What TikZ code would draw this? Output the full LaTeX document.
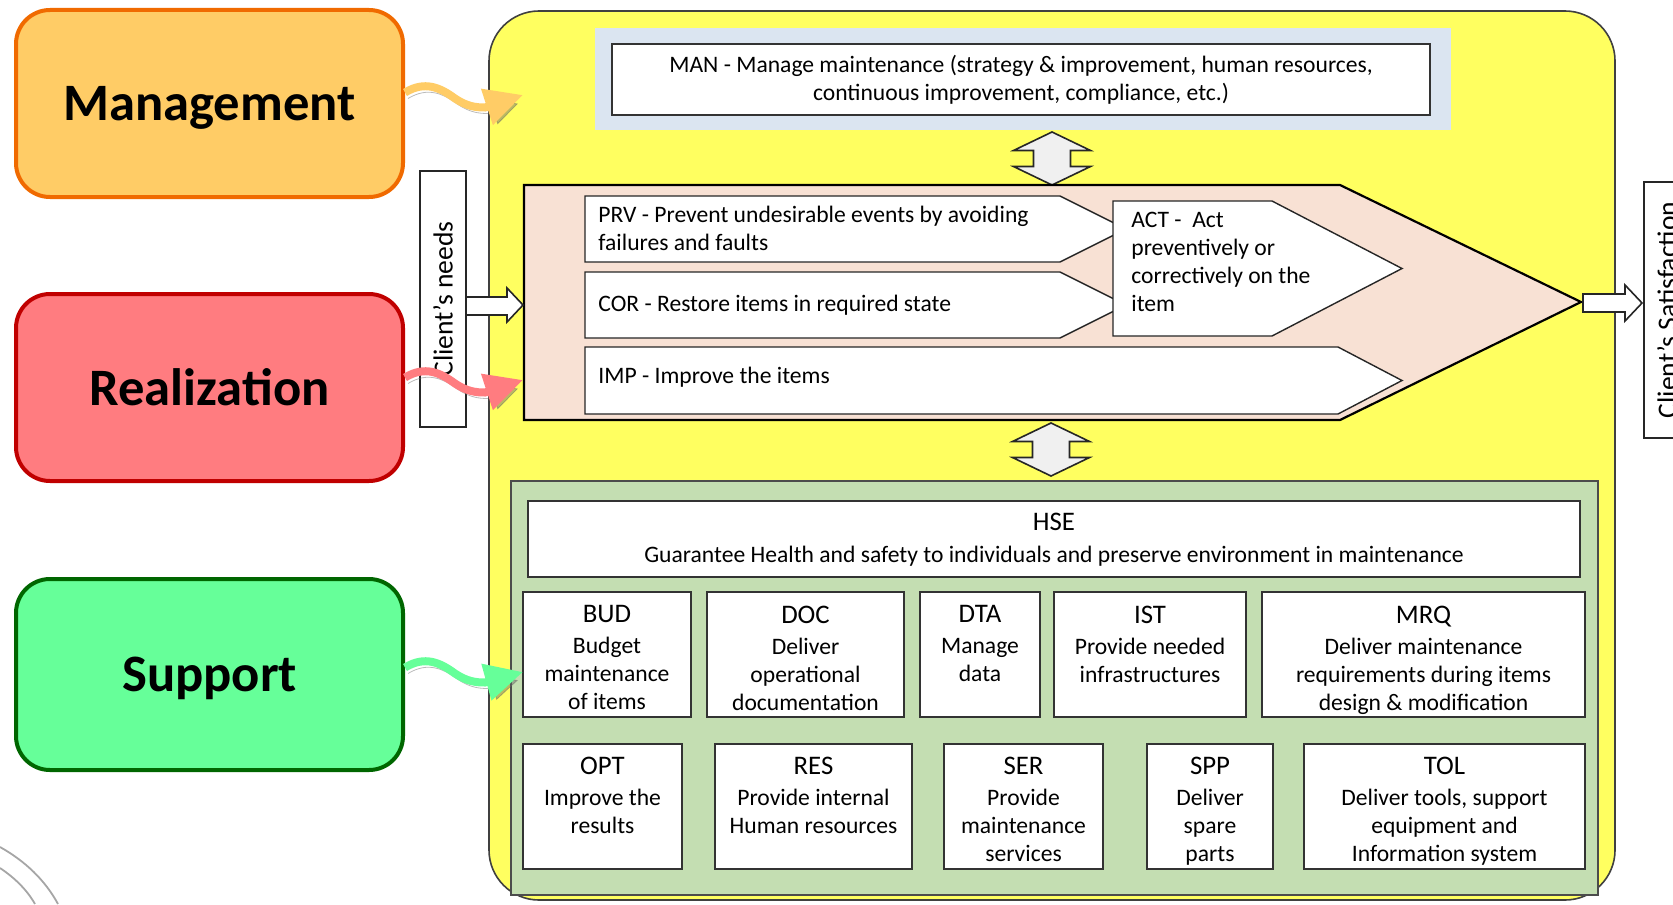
\documentclass[tikz,border=0pt]{standalone}
\usepackage{fontspec}
\setmainfont{Carlito}
\usetikzlibrary{arrows.meta,calc}

\definecolor{mgmtfill}{HTML}{FFCC66}
\definecolor{mgmtline}{HTML}{F06A00}
\definecolor{realfill}{HTML}{FF7C80}
\definecolor{realline}{HTML}{C00000}
\definecolor{suppfill}{HTML}{66FF99}
\definecolor{suppline}{HTML}{006600}
\definecolor{framefill}{HTML}{FFFF60}
\definecolor{chevfill}{HTML}{F8E1D4}
\definecolor{manfill}{HTML}{DBE5F1}
\definecolor{supparea}{HTML}{C4DEB2}

\newcommand\bodyfnt{\fontsize{11.8}{14}\selectfont}
\newcommand\ttlfnt{\fontsize{13.4}{15}\selectfont}
\newcommand\bigfnt{\fontsize{26.3}{30}\selectfont\bfseries}
\newcommand\sidefnt{\fontsize{13.8}{16}\selectfont}

\tikzset{
  phase/.style={rounded corners=17pt, line width=2pt, minimum width=193.5pt,
    minimum height=93.5pt, font=\bigfnt, text depth=0pt},
  wavy/.style={line width=4pt, -{Triangle[length=19pt,width=18pt]},
    preaction={draw=black!60, opacity=.45, transform canvas={shift={(1.5pt,-3pt)}}}},
  hollow/.style={draw=black!85, fill=white, line width=.8pt},
  sidebox/.style={draw=black!85, line width=1pt, fill=white, rotate=90,
    font=\sidefnt, inner sep=0pt},
  supbox/.style={draw=black!80, fill=white, line width=.7pt},
  boxtext/.style={anchor=north, align=center, inner sep=0pt, font=\bodyfnt},
  steptext/.style={anchor=west, align=left, inner sep=0pt, font=\bodyfnt},
  flowarrow/.style={draw=black!85, fill=white, line width=.7pt},
  dblarrow/.pic={
    \draw[fill=black!6, draw=black!85, line width=.8pt]
      (0,-26.5) -- (38.5,-8) -- (18.5,-8) -- (18.5,8) -- (38.5,8) -- (0,26.5)
      -- (-38.5,8) -- (-18.5,8) -- (-18.5,-8) -- (-38.5,-8) -- cycle;}
}

\begin{document}
\begin{tikzpicture}[x=0.5pt,y=-0.5pt]
  \useasboundingbox (0,0) rectangle (1673,904);
  \clip (0,0) rectangle (1673,904);

  % corner decoration
  \draw[black!35, line width=.9pt] (0,847) .. controls (25,861) and (45,880) .. (58,904);
  \draw[black!35, line width=.9pt] (0,868) .. controls (15,878) and (27,890) .. (35,904);

  % process frame
  \draw[draw=black!75, fill=framefill, line width=.8pt, rounded corners=25pt]
    (489,11) rectangle (1615,900);

  % management process
  \fill[manfill] (595,28) rectangle (1451,130);
  \node[supbox, line width=.9pt, minimum width=409pt, minimum height=35.5pt,
    align=center, font=\bodyfnt] (man) at (1021,79.5)
    {MAN - Manage maintenance (strategy \& improvement, human resources,\\
     continuous improvement, compliance, etc.)};

  \pic (upper) at (1052,158.5) {dblarrow};

  % realization chevron
  \draw[fill=chevfill, line width=1.1pt]
    (524,185) -- (1340,185) -- (1581,302) -- (1340,420) -- (524,420) -- cycle;
  \draw[flowarrow] (585,196) -- (1060,196) -- (1126,229) -- (1060,262) -- (585,262) -- cycle;
  \draw[flowarrow] (585,272) -- (1060,272) -- (1126,305) -- (1060,338) -- (585,338) -- cycle;
  \draw[flowarrow] (585,347) -- (1338,347) -- (1402,380.5) -- (1338,414) -- (585,414) -- cycle;
  \draw[flowarrow] (1113,201) -- (1272,201) -- (1402,268.5) -- (1272,336) -- (1113,336) -- cycle;

  \node[steptext] (prv) at (598,228) {PRV - Prevent undesirable events by avoiding\\failures and faults};
  \node[steptext] (cor) at (598,305) {COR - Restore items in required state};
  \node[steptext] (imp) at (598,377) {IMP - Improve the items};
  \node[steptext] (act) at (1131,262) {ACT -\ \ Act\\preventively or\\correctively on the\\item};

  \pic (lower) at (1051,449.5) {dblarrow};

  % support processes
  \draw[draw=black!70, fill=supparea, line width=.8pt] (511,481) rectangle (1598,895);

  \node[supbox, minimum width=526pt, minimum height=38pt] (hse) at (1054,539) {};
  \node[boxtext] (hse-t) at ([yshift=-6pt]hse.north)
    {{\ttlfnt HSE}\\[2pt]Guarantee Health and safety to individuals and preserve environment in maintenance};

  \begin{scope}[every node/.append style={supbox, minimum height=62.5pt}]
    \node[minimum width=84pt]    (bud) at (607,654.5)    {};
    \node[minimum width=98.5pt]  (doc) at (805.5,654.5)  {};
    \node[minimum width=60pt]    (dta) at (980,654.5)    {};
    \node[minimum width=96pt]    (ist) at (1150,654.5)   {};
    \node[minimum width=161.5pt] (mrq) at (1423.5,654.5) {};
    \node[minimum width=79.5pt]  (opt) at (602.5,806.5)  {};
    \node[minimum width=98.5pt]  (res) at (813.5,806.5)  {};
    \node[minimum width=79.5pt]  (ser) at (1023.5,806.5) {};
    \node[minimum width=63pt]    (spp) at (1210,806.5)   {};
    \node[minimum width=140.5pt] (tol) at (1444.5,806.5) {};
  \end{scope}

  \node[boxtext] (bud-t) at ([yshift=-7pt]bud.north) {{\ttlfnt BUD}\\[1.5pt]Budget\\maintenance\\of items};
  \node[boxtext] (doc-t) at ([yshift=-7pt]doc.north) {{\ttlfnt DOC}\\[1.5pt]Deliver\\operational\\documentation};
  \node[boxtext] (dta-t) at ([yshift=-7pt]dta.north) {{\ttlfnt DTA}\\[1.5pt]Manage\\data};
  \node[boxtext] (ist-t) at ([yshift=-7pt]ist.north) {{\ttlfnt IST}\\[1.5pt]Provide needed\\infrastructures};
  \node[boxtext] (mrq-t) at ([yshift=-7pt]mrq.north) {{\ttlfnt MRQ}\\[1.5pt]Deliver maintenance\\requirements during items\\design \& modification};
  \node[boxtext] (opt-t) at ([yshift=-6.5pt]opt.north) {{\ttlfnt OPT}\\[1.5pt]Improve the\\results};
  \node[boxtext] (res-t) at ([yshift=-6.5pt]res.north) {{\ttlfnt RES}\\[1.5pt]Provide internal\\Human resources};
  \node[boxtext] (ser-t) at ([yshift=-6.5pt]ser.north) {{\ttlfnt SER}\\[1.5pt]Provide\\maintenance\\services};
  \node[boxtext] (spp-t) at ([yshift=-6.5pt]spp.north) {{\ttlfnt SPP}\\[1.5pt]Deliver\\spare\\parts};
  \node[boxtext] (tol-t) at ([yshift=-6.5pt]tol.north) {{\ttlfnt TOL}\\[1.5pt]Deliver tools, support\\equipment and\\Information system};

  % client side
  \node[sidebox, minimum width=128pt, minimum height=23pt] (needs) at (443,299) {Client’s needs};
  \node[sidebox, minimum width=128pt, minimum height=23pt, anchor=north] (satis) at (1643,310) {Client’s Satisfaction};

  \draw[hollow] (466,297) -- (507,297) -- (507,288) -- (523,305) -- (507,322) -- (507,315) -- (466,315) -- cycle;
  \draw[hollow] (1583,294) -- (1625,294) -- (1625,285) -- (1642,303) -- (1625,321) -- (1625,312) -- (1583,312) -- cycle;

  % phases
  \node[phase, draw=mgmtline, fill=mgmtfill] (mgmt) at (209.5,103.5) {Management};
  \node[phase, draw=realline, fill=realfill] (real) at (209.5,387.5) {Realization};
  \node[phase, draw=suppline, fill=suppfill, minimum height=95.5pt] (supp) at (209.5,674.5) {Support};

  \coordinate (mgmt-in) at (523,95);
  \coordinate (real-in) at (523,380);
  \coordinate (supp-in) at (523,672);

  \draw[wavy, mgmtfill] ($(mgmt.east)+(0,-11)$) .. controls +(20,-12) and +(-15,-11) .. ++(50,6)
    .. controls +(12,8) and +(-9,0) .. ++(30,9) -- (mgmt-in);
  \draw[wavy, realfill] ($(real.east)+(0,-10)$) .. controls +(20,-12) and +(-15,-11) .. ++(50,6)
    .. controls +(12,8) and +(-9,0) .. ++(30,9) -- (real-in);
  \draw[wavy, suppfill] ($(supp.east)+(0,-7)$) .. controls +(20,-12) and +(-15,-11) .. ++(50,6)
    .. controls +(12,8) and +(-9,0) .. ++(30,9) -- (supp-in);
\end{tikzpicture}
\end{document}
